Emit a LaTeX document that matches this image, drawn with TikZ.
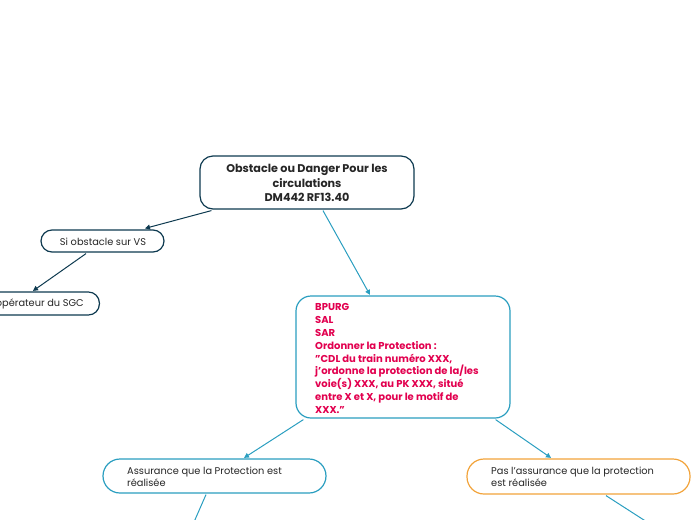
\documentclass[tikz,border=0pt]{standalone}
\usepackage{fontspec}
\setmainfont{Poppins}
\usetikzlibrary{arrows.meta,calc}
\definecolor{navy}{HTML}{0E3A50}
\definecolor{teal}{HTML}{2A9EC0}
\definecolor{redtxt}{HTML}{E2004F}
\definecolor{orng}{HTML}{F2A33A}
\definecolor{txt}{HTML}{262626}
\begin{document}
\begin{tikzpicture}[x=1pt,y=-1pt,
  box/.style={draw, line width=1.2pt, fill=white, rounded corners=13pt, inner sep=0pt},
  lbl/.style={inner sep=0pt, text=txt, font=\fontsize{9.8}{12}\selectfont},
  conn/.style={line width=1pt, -{Triangle[length=5pt,width=5pt]}},
  plain/.style={line width=1pt}]
\useasboundingbox (0,0) rectangle (697,520);
\clip (0,0) rectangle (697,520);
% boxes
\node[box, draw=navy, minimum width=214pt, minimum height=53pt] (top) at (307,182.5) {};
\node[lbl, align=center, font=\bfseries\fontsize{11.2}{14.3}\selectfont] (toptxt) at (307,183) {Obstacle ou Danger Pour les\\circulations\\DM442 RF13.40};
\node[box, draw=navy, rounded corners=11pt, minimum width=123pt, minimum height=22pt] (vs) at (102.5,241) {};
\node[lbl] (vstxt) at (103,241.5) {Si obstacle sur VS};
\node[box, draw=navy, rounded corners=11pt, minimum width=160pt, minimum height=23pt, anchor=east] (sgc) at (100,303.5) {};
\node[lbl, anchor=east] (sgctxt) at (84,304) {opérateur du SGC};
\node[box, draw=teal, rounded corners=15pt, minimum width=214pt, minimum height=122pt] (prot) at (403,357) {};
\node[lbl, anchor=north west, align=left, text=redtxt, font=\bfseries\fontsize{10}{12.8}\selectfont] (prottxt) at (315,303.5) {BPURG\\SAL\\SAR\\Ordonner la Protection :\\"CDL du train numéro XXX,\\j'ordonne la protection de la/les\\voie(s) XXX, au PK XXX, situé\\entre X et X, pour le motif de\\XXX."};
\node[box, draw=teal, rounded corners=17pt, minimum width=223pt, minimum height=34pt] (ass) at (214.5,476) {};
\node[lbl, anchor=west, align=left] (asstxt) at (127,476.5) {Assurance que la Protection est\\réalisée};
\node[box, draw=orng, rounded corners=17pt, minimum width=223pt, minimum height=35pt] (pas) at (578.5,476.5) {};
\node[lbl, anchor=west, align=left] (pastxt) at (491,477) {Pas l'assurance que la protection\\est réalisée};
\coordinate (assout) at (194,522);
\coordinate (pasout) at (647,522);
% connectors
\draw[conn, navy] ($(top.south west)+(12,1)$) -- ($(vs.north)+(42.5,-1)$);
\draw[conn, navy] ($(vs.south)+(-16.5,1)$) -- ($(sgc.north east)+(-67,-0.5)$);
\draw[conn, teal] ($(top.south)+(16,1)$) -- ($(prot.north)+(-33,-0.5)$);
\draw[conn, teal] ($(prot.south west)+(8,1)$) -- ($(ass.north)+(29.5,-0.5)$);
\draw[conn, teal] ($(prot.south east)+(-15,1)$) -- ($(pas.north)+(-27.5,-0.5)$);
\draw[plain, teal] ($(ass.south)+(-8.5,1)$) -- (assout);
\draw[plain, teal] ($(pas.south)+(27.5,1)$) -- (pasout);
\end{tikzpicture}
\end{document}
